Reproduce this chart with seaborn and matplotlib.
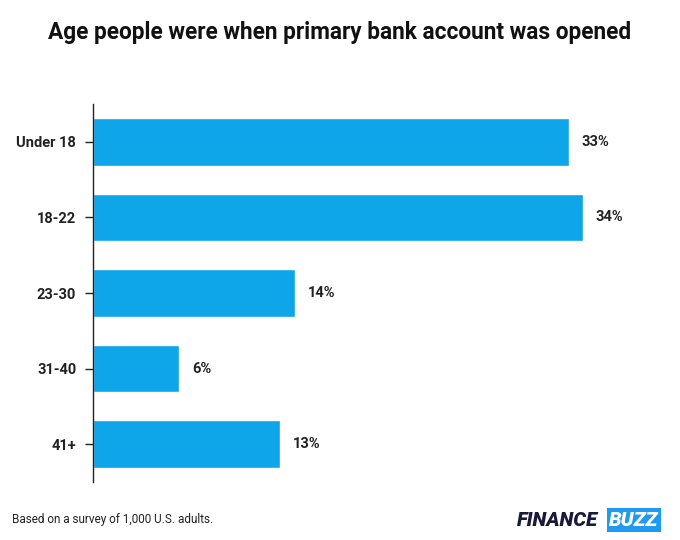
import matplotlib
matplotlib.use("Agg")
import matplotlib.pyplot as plt
import seaborn as sns
import pandas as pd

categories = ["Under 18", "18-22", "23-30", "31-40", "41+"]
values = [33, 34, 14, 6, 13]
labels = ["33%", "34%", "14%", "6%", "13%"]

sns.set_style("white")
plt.rcParams['font.family'] = ['Roboto', 'DejaVu Sans']

fig = plt.figure(figsize=(6.8, 5.4), dpi=100)
ax = fig.add_axes([93/680, 1-482/540, (640-93)/680, 378/540])
df = pd.DataFrame({"cat": categories, "val": values})
sns.barplot(data=df, y="cat", x="val", orient="h", color="#0EA5E9", width=0.63,
            saturation=1, ax=ax)
ax.set_xlim(0, 547/14.41)
ax.set_ylim(4.5, -0.5)
ax.set_xlabel(""); ax.set_ylabel("")
ax.set_xticks([])
for s in ["top", "right", "bottom"]:
    ax.spines[s].set_visible(False)
ax.spines["left"].set_color("#222222")
ax.spines["left"].set_linewidth(1)
ax.tick_params(axis="y", length=6, width=1, color="#222222", left=True, pad=6)
for t in ax.get_yticklabels():
    t.set_fontweight("bold"); t.set_fontsize(10.5); t.set_color("#222222")
for i, (v, l) in enumerate(zip(values, labels)):
    ax.text(v + 0.9, i, l, va="center", ha="left", fontsize=10.5,
            fontweight="bold", color="#222222")

fig.text(0.5, 1-33/540, "Age people were when primary bank account was opened",
         ha="center", va="center", fontsize=16.3, fontweight="bold", color="#111111")
fig.text(12/680, 1-520/540, "Based on a survey of 1,000 U.S. adults.",
         ha="left", va="center", fontsize=8.5, color="#222222")
fig.text(517/680, 1-520/540, "FINANCE", ha="left", va="center", fontsize=14.5,
         fontweight="black", style="italic", color="#1a1a3a")
fig.text(609/680, 1-520/540, "BUZZ", ha="left", va="center", fontsize=14.5,
         fontweight="black", style="italic", color="white",
         bbox=dict(boxstyle="square,pad=0.12", fc="#1E9BF0", ec="none"))
fig.savefig("out.png", dpi=100)
